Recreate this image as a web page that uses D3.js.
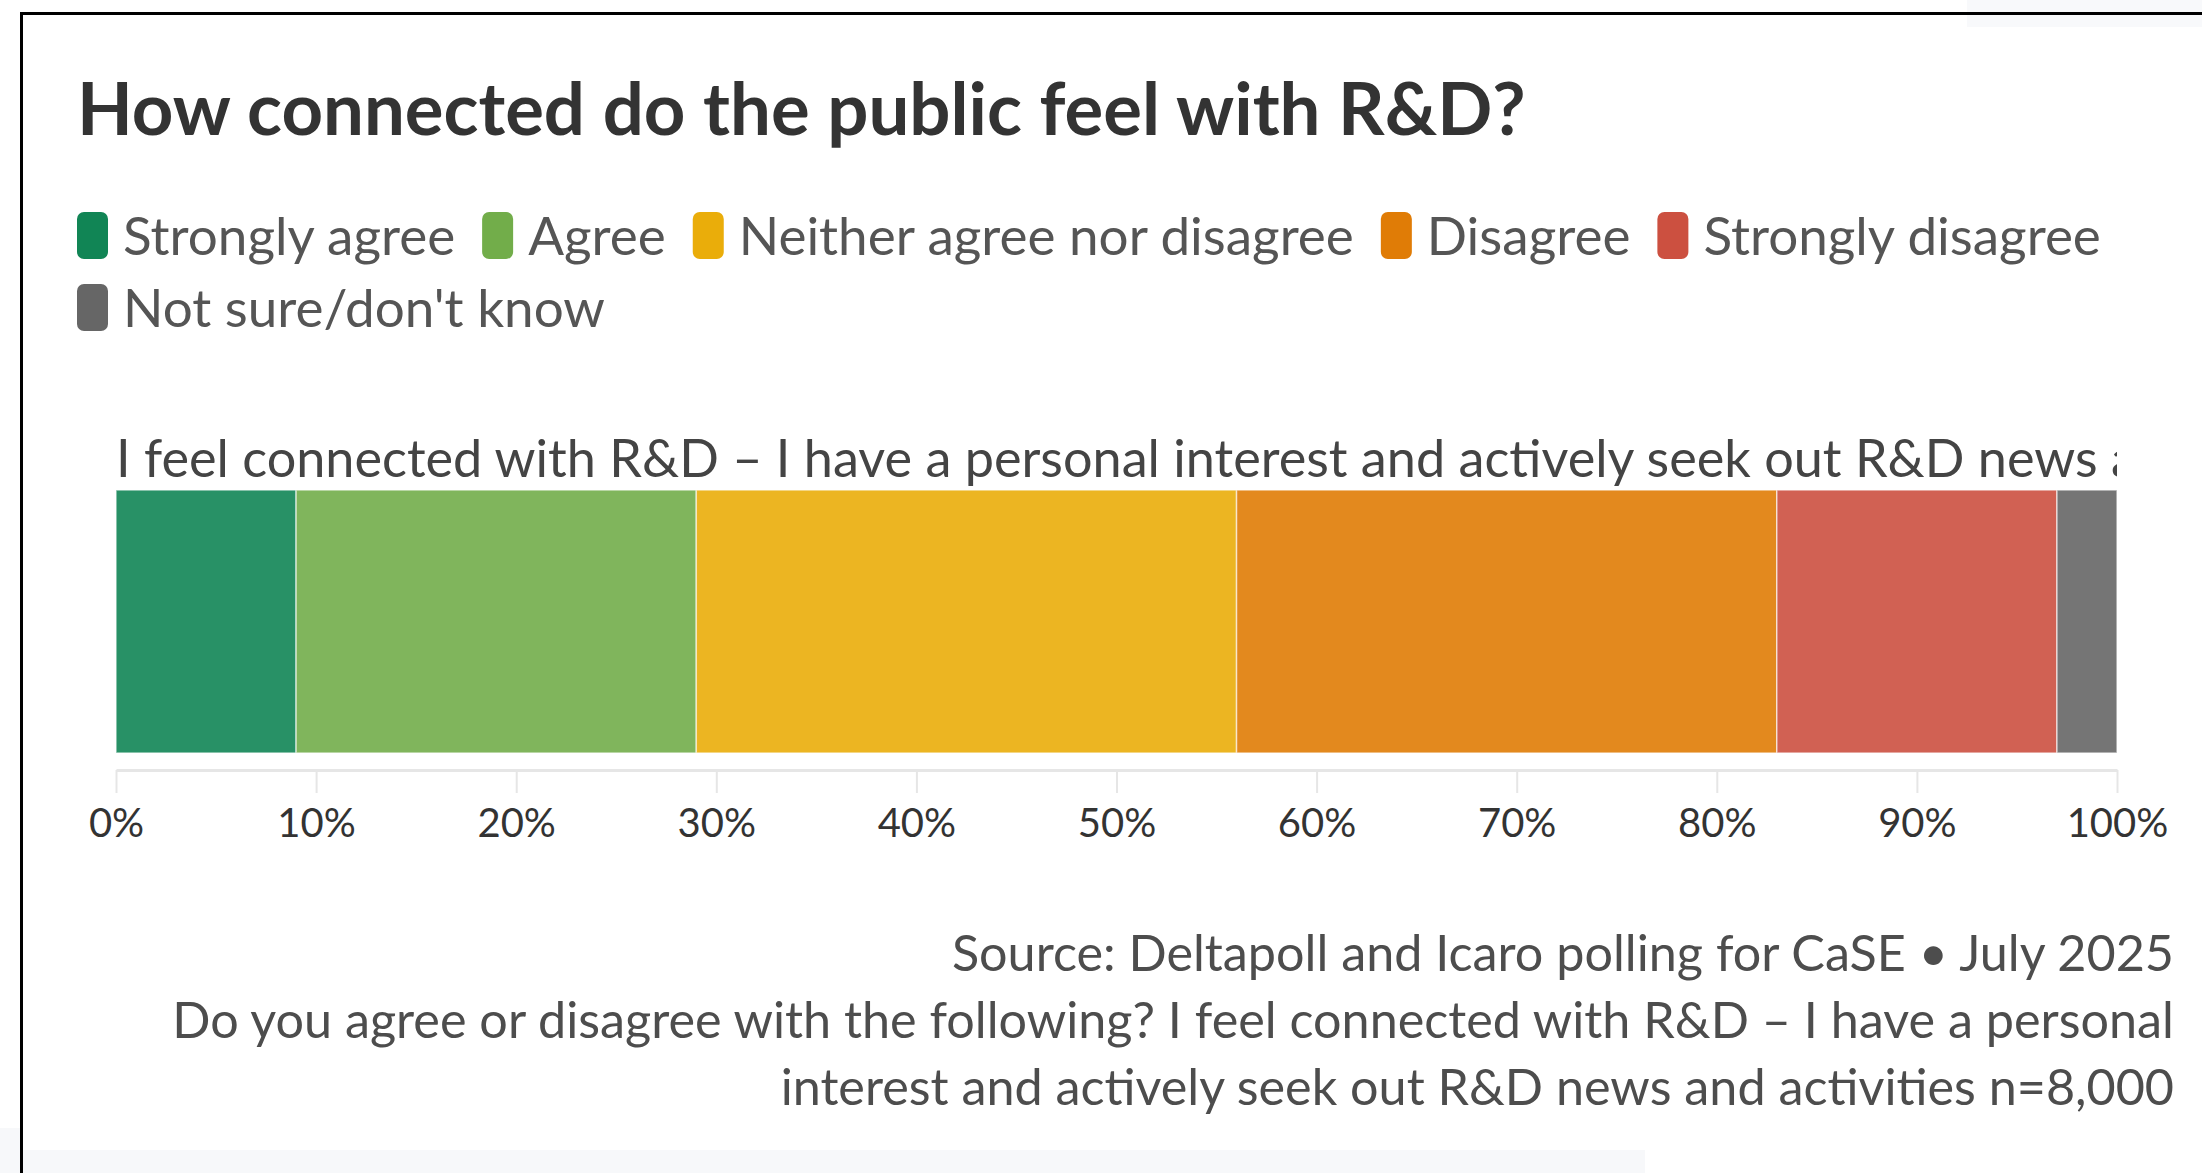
<!DOCTYPE html>
<html>
<head>
<meta charset="utf-8">
<script src="https://cdn.jsdelivr.net/npm/d3@7"></script>
<style>
  html, body { margin: 0; padding: 0; background: #fff; }
  svg { display: block; }
  text { font-family: Lato, "Noto Sans", sans-serif; }
</style>
</head>
<body>
<svg id="chart" width="2202" height="1173"></svg>
<script>
// Survey answers for the single statement, in legend order
const categories = ["Strongly agree", "Agree", "Neither agree nor disagree", "Disagree", "Strongly disagree", "Not sure/don't know"];
const values = [9, 20, 27, 27, 14, 3];
const colors = ["#118555", "#72ad4a", "#eaad0a", "#e07c06", "#cc5040", "#666666"];
const statement = "I feel connected with R&D – I have a personal interest and actively seek out R&D news and activities";
const tickValues = [0, 10, 20, 30, 40, 50, 60, 70, 80, 90, 100];
const titleText = "How connected do the public feel with R&D?";
const sourceLines = [
  "Source: Deltapoll and Icaro polling for CaSE • July 2025",
  "Do you agree or disagree with the following? I feel connected with R&D – I have a personal",
  "interest and actively seek out R&D news and activities n=8,000"
];

const W = 2202, H = 1173;
const svg = d3.select("#chart");

// page background and the framing rule
svg.append("rect").attr("width", W).attr("height", H).attr("fill", "#fff");
svg.append("rect").attr("x", 0).attr("y", 1150).attr("width", 1645).attr("height", 23).attr("fill", "#f7f8fa");
svg.append("rect").attr("x", 0).attr("y", 1128).attr("width", 22).attr("height", 45).attr("fill", "#f7f8fa");
svg.append("rect").attr("x", 1967).attr("y", 0).attr("width", 235).attr("height", 27).attr("fill", "#f8f9fb");
svg.append("line").attr("x1", 20).attr("x2", W).attr("y1", 13.5).attr("y2", 13.5)
  .attr("stroke", "#000").attr("stroke-width", 3);
svg.append("line").attr("x1", 21.5).attr("x2", 21.5).attr("y1", 12).attr("y2", H)
  .attr("stroke", "#000").attr("stroke-width", 3);

// title
svg.append("text")
  .attr("x", 77).attr("y", 135)
  .attr("font-size", 72.5).attr("font-weight", 700).attr("fill", "#333")
  .text(titleText);

// legend with wrapping rows
const legend = svg.append("g");
const legLeft = 77, legRight = 2140, rowH = 72, swW = 31, swH = 47;
let lx = legLeft, ly = 255;
categories.forEach((c, i) => {
  const g = legend.append("g");
  const t = g.append("text").attr("font-size", 53).attr("fill", "#555").text(c);
  const tw = t.node().getComputedTextLength();
  const itemW = swW + 15 + tw;
  if (lx > legLeft && lx + itemW > legRight) { lx = legLeft; ly += rowH; }
  g.insert("rect", "text")
    .attr("x", lx).attr("y", ly - 43).attr("width", swW).attr("height", swH)
    .attr("rx", 7).attr("fill", colors[i]);
  t.attr("x", lx + swW + 15).attr("y", ly);
  lx += itemW + 27;
});

// scales
const x = d3.scaleLinear().domain([0, 100]).range([116, 2117]);
const y = d3.scaleBand().domain([statement]).range([490, 753]);

// stacked segments
const row = {};
categories.forEach((c, i) => row[c] = values[i]);
const stacked = d3.stack().keys(categories)([row]);

svg.append("g").selectAll("rect")
  .data(stacked)
  .join("rect")
  .attr("x", d => x(d[0][0]))
  .attr("width", d => x(d[0][1]) - x(d[0][0]))
  .attr("y", y(statement))
  .attr("height", y.bandwidth())
  .attr("fill", (d, i) => colors[i])
  .attr("fill-opacity", 0.9)
  .attr("stroke", "#fff")
  .attr("stroke-opacity", 0.6)
  .attr("stroke-width", 1.5);

// statement label above the bar, clipped to the plot width
svg.append("clipPath").attr("id", "labelClip")
  .append("rect").attr("x", x(0)).attr("y", 420).attr("width", x(100) - x(0)).attr("height", 70);
svg.append("text")
  .attr("clip-path", "url(#labelClip)")
  .attr("x", x(0)).attr("y", 477)
  .attr("font-size", 52.2).attr("fill", "#444")
  .text(statement);

// x axis
const axis = svg.append("g")
  .attr("transform", "translate(0,770)")
  .call(d3.axisBottom(x).tickValues(tickValues).tickFormat(d => d + "%").tickSize(23).tickSizeOuter(0).tickPadding(16));
axis.select(".domain").attr("stroke", "#e6e6e6").attr("stroke-width", 3);
axis.selectAll(".tick line").attr("stroke", "#e6e6e6").attr("stroke-width", 2);
axis.selectAll(".tick text")
  .attr("font-family", "Lato, sans-serif").attr("font-size", 40).attr("fill", "#333");

// source notes, right-aligned
svg.append("g").selectAll("text")
  .data(sourceLines)
  .join("text")
  .attr("x", 2174)
  .attr("y", (d, i) => 971 + i * 67)
  .attr("text-anchor", "end")
  .attr("font-size", 50.3).attr("fill", "#4d4d4d")
  .text(d => d);
</script>
</body>
</html>
